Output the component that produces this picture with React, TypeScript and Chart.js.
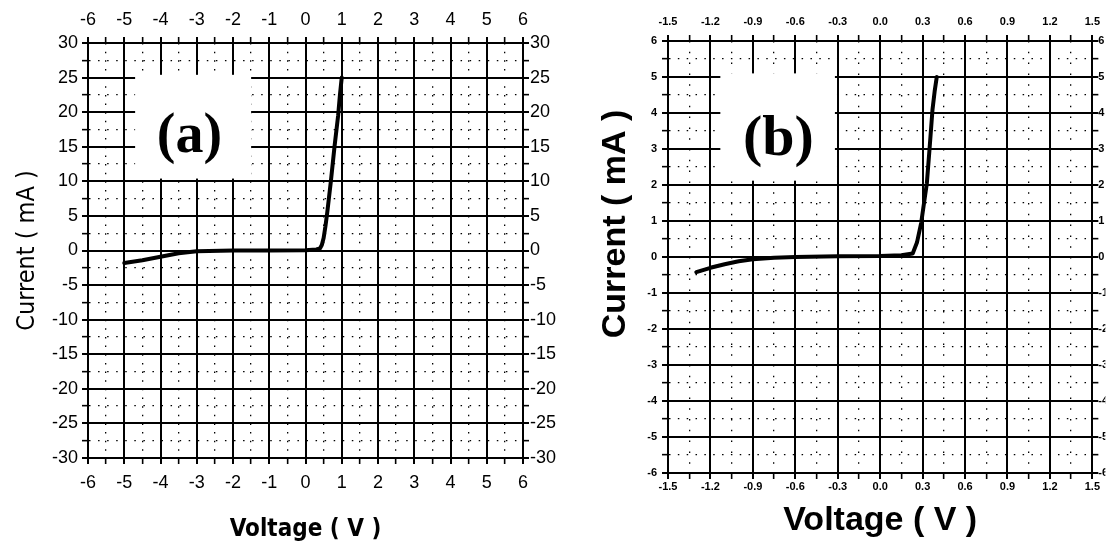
import React, { useEffect, useRef } from 'react';
import { Chart, registerables } from 'chart.js';

Chart.register(...registerables);

// ---------- data: panel (a) ----------
const VOLT_A = [-5, -4.5, -4, -3.5, -3, -2, -1, 0, 0.3, 0.4, 0.45, 0.5, 0.55, 0.6, 0.7, 0.8, 0.9, 0.95, 1.0];
const CURR_A = [-1.8, -1.4, -0.9, -0.4, -0.1, 0, 0, 0.05, 0.15, 0.3, 0.8, 1.8, 3.5, 5.5, 10, 15, 19.5, 22.5, 25];

const X_TICKS_A = [-6, -5, -4, -3, -2, -1, 0, 1, 2, 3, 4, 5, 6];
const X_LABELS_A = ['-6', '-5', '-4', '-3', '-2', '-1', '0', '1', '2', '3', '4', '5', '6'];
const Y_TICKS_A = [-30, -25, -20, -15, -10, -5, 0, 5, 10, 15, 20, 25, 30];
const Y_LABELS_A = ['-30', '-25', '-20', '-15', '-10', '-5', '0', '5', '10', '15', '20', '25', '30'];

// ---------- data: panel (b) ----------
const VOLT_B = [-1.3, -1.2, -1.1, -1.0, -0.9, -0.75, -0.6, -0.3, 0.0, 0.15, 0.23, 0.26, 0.29, 0.31, 0.33, 0.35, 0.37, 0.385, 0.4];
const CURR_B = [-0.42, -0.3, -0.2, -0.12, -0.06, -0.02, 0.0, 0.02, 0.03, 0.05, 0.1, 0.4, 0.95, 1.5, 2.05, 3.05, 4.1, 4.6, 5.0];

const X_TICKS_B = [-1.5, -1.2, -0.9, -0.6, -0.3, 0, 0.3, 0.6, 0.9, 1.2, 1.5];
const X_LABELS_B = ['-1.5', '-1.2', '-0.9', '-0.6', '-0.3', '0.0', '0.3', '0.6', '0.9', '1.2', '1.5'];
const Y_TICKS_B = [-6, -5, -4, -3, -2, -1, 0, 1, 2, 3, 4, 5, 6];
const Y_LABELS_B = ['-6', '-5', '-4', '-3', '-2', '-1', '0', '1', '2', '3', '4', '5', '6'];

// panel tags and the blank areas behind them (data units: xMin, xMax, yMin, yMax)
const TAG_A = '(a)';
const TAG_BOX_A = [-4.7, -1.5, 10.4, 25.4];
const TAG_POS_A = [-3.2, 16.3];
const TAG_B = '(b)';
const TAG_BOX_B = [-1.13, -0.32, 2.12, 5.1];
const TAG_POS_B = [-0.72, 3.25];

const X_TITLE = 'Voltage ( V )';
const Y_TITLE = 'Current ( mA )';
// panel (b)'s y title sits above the centre of its axis in the original
const Y_TITLE_B = '       ' + Y_TITLE;

const SANS = "'Liberation Sans', Arial, sans-serif";
const NARROW = "'Liberation Sans Narrow', 'DejaVu Sans Condensed', 'Liberation Sans', Arial, sans-serif";
const SERIF = "'Liberation Serif', 'DejaVu Serif', serif";

function isMajor(majors: number[], v: number) {
  return majors.some((m) => Math.abs(m - v) < 1e-7);
}

function withMinor(majors: number[]) {
  const out: { value: number }[] = [];
  for (let i = 0; i < majors.length; i++) {
    out.push({ value: majors[i] });
    if (i < majors.length - 1) out.push({ value: (majors[i] + majors[i + 1]) / 2 });
  }
  return out;
}

type AxisSpec = {
  id: 'x' | 'y';
  position: 'top' | 'bottom' | 'left' | 'right';
  majors: number[];
  labels: string[];
  font: any;
  pad: number;
  size: number;
  onArea: boolean;
  title?: any;
};

function makeAxis(s: AxisSpec) {
  const horizontal = s.id === 'x';
  const major = (c: any) => !c.tick || isMajor(s.majors, c.tick.value);
  return {
    type: 'linear',
    axis: s.id,
    position: s.position,
    min: s.majors[0],
    max: s.majors[s.majors.length - 1],
    afterBuildTicks: (scale: any) => {
      scale.ticks = withMinor(s.majors);
    },
    afterFit: (scale: any) => {
      if (horizontal) scale.height = s.size;
      else scale.width = s.size;
    },
    ticks: {
      autoSkip: false,
      maxRotation: 0,
      minRotation: 0,
      color: '#000',
      font: s.font,
      padding: s.pad,
      callback: (v: number) => {
        const i = s.majors.findIndex((m) => Math.abs(m - v) < 1e-7);
        return i >= 0 ? s.labels[i] : '';
      },
    },
    grid: {
      display: true,
      drawOnChartArea: s.onArea,
      drawTicks: true,
      tickLength: 6,
      color: '#000',
      lineWidth: (c: any) => (major(c) ? 2 : 1.3),
      tickColor: '#000',
      tickWidth: (c: any) => (major(c) ? 2 : 1.6),
    },
    border: {
      display: true,
      color: '#000',
      width: 2,
      dash: (c: any) => {
        if (major(c)) return [];
        const area = c.chart && c.chart.chartArea;
        if (!area) return [1.5, 7.5];
        const intervals = (s.majors.length - 1) * 4;
        const len = horizontal ? area.bottom - area.top : area.right - area.left;
        const period = len / intervals;
        return [1.5, period - 1.5];
      },
    },
    title: s.title || { display: false },
  };
}

const tagPlugin = (tag: string, box: number[], pos: number[], font: string) => ({
  id: 'panelTag',
  beforeDatasetsDraw(chart: any) {
    const { ctx, scales } = chart;
    const x = scales.x;
    const y = scales.y;
    const x1 = x.getPixelForValue(box[0]);
    const x2 = x.getPixelForValue(box[1]);
    const y1 = y.getPixelForValue(box[3]);
    const y2 = y.getPixelForValue(box[2]);
    ctx.save();
    ctx.fillStyle = '#fff';
    ctx.fillRect(x1, y1, x2 - x1, y2 - y1);
    ctx.fillStyle = '#000';
    ctx.font = font;
    ctx.textAlign = 'center';
    ctx.textBaseline = 'middle';
    ctx.fillText(tag, x.getPixelForValue(pos[0]), y.getPixelForValue(pos[1]));
    ctx.restore();
  },
});

type PanelProps = {
  volts: number[];
  currents: number[];
  xTicks: number[];
  xLabels: string[];
  yTicks: number[];
  yLabels: string[];
  width: number;
  height: number;
  tickFont: any;
  pads: { top: number; bottom: number; left: number; right: number };
  sizes: { top: number; bottom: number; left: number; right: number };
  xTitle: any;
  yTitle: any;
  tag: string;
  tagBox: number[];
  tagPos: number[];
  tagFont: string;
  lineWidth: number;
};

function Panel(p: PanelProps) {
  const ref = useRef<HTMLCanvasElement | null>(null);
  useEffect(() => {
    if (!ref.current) return;
    const data = p.volts.map((v, i) => ({ x: v, y: p.currents[i] }));
    const chart = new Chart(ref.current, {
      type: 'scatter',
      data: {
        datasets: [
          {
            data,
            showLine: true,
            borderColor: '#000',
            backgroundColor: '#000',
            borderWidth: p.lineWidth,
            pointRadius: 0,
            tension: 0,
            borderCapStyle: 'round',
            borderJoinStyle: 'round',
          } as any,
        ],
      },
      options: {
        responsive: false,
        animation: false,
        devicePixelRatio: 1,
        layout: { padding: 0 },
        plugins: { legend: { display: false }, tooltip: { enabled: false } },
        scales: {
          x: makeAxis({ id: 'x', position: 'bottom', majors: p.xTicks, labels: p.xLabels, font: p.tickFont, pad: p.pads.bottom, size: p.sizes.bottom, onArea: true, title: p.xTitle }),
          x2: makeAxis({ id: 'x', position: 'top', majors: p.xTicks, labels: p.xLabels, font: p.tickFont, pad: p.pads.top, size: p.sizes.top, onArea: false }),
          y: makeAxis({ id: 'y', position: 'left', majors: p.yTicks, labels: p.yLabels, font: p.tickFont, pad: p.pads.left, size: p.sizes.left, onArea: true, title: p.yTitle }),
          y2: makeAxis({ id: 'y', position: 'right', majors: p.yTicks, labels: p.yLabels, font: p.tickFont, pad: p.pads.right, size: p.sizes.right, onArea: false }),
        } as any,
      },
      plugins: [tagPlugin(p.tag, p.tagBox, p.tagPos, p.tagFont)],
    });
    return () => chart.destroy();
  }, []);
  return <canvas ref={ref} width={p.width} height={p.height} style={{ display: 'block', width: p.width, height: p.height }} />;
}

export default function App() {
  return (
    <div style={{ position: 'absolute', left: 0, top: 0, width: 1106, height: 546, background: '#fff', display: 'flex' }}>
      <Panel
        volts={VOLT_A}
        currents={CURR_A}
        xTicks={X_TICKS_A}
        xLabels={X_LABELS_A}
        yTicks={Y_TICKS_A}
        yLabels={Y_LABELS_A}
        width={560}
        height={546}
        tickFont={{ family: SANS, size: 18 }}
        pads={{ top: 6, bottom: 8, left: 4, right: 1 }}
        sizes={{ top: 43, bottom: 88, left: 88, right: 37 }}
        xTitle={{ display: true, text: X_TITLE, color: '#000', font: { family: NARROW, size: 24, weight: 'bold' }, padding: { top: 0, bottom: 2 } }}
        yTitle={{ display: true, text: Y_TITLE, color: '#000', font: { family: NARROW, size: 25 }, padding: { top: 12, bottom: 0 } }}
        tag={TAG_A}
        tagBox={TAG_BOX_A}
        tagPos={TAG_POS_A}
        tagFont={`bold 56px ${SERIF}`}
        lineWidth={4}
      />
      <Panel
        volts={VOLT_B}
        currents={CURR_B}
        xTicks={X_TICKS_B}
        xLabels={X_LABELS_B}
        yTicks={Y_TICKS_B}
        yLabels={Y_LABELS_B}
        width={546}
        height={546}
        tickFont={{ family: SANS, size: 11, weight: 'bold' }}
        pads={{ top: 6, bottom: 1, left: 5, right: 0 }}
        sizes={{ top: 41, bottom: 73, left: 108, right: 13 }}
        xTitle={{ display: true, text: X_TITLE, color: '#000', font: { family: SANS, size: 34, weight: 'bold' }, padding: { top: 0, bottom: 5 } }}
        yTitle={{ display: true, text: Y_TITLE_B, color: '#000', font: { family: SANS, size: 34, weight: 'bold' }, padding: { top: 35, bottom: 0 } }}
        tag={TAG_B}
        tagBox={TAG_BOX_B}
        tagPos={TAG_POS_B}
        tagFont={`bold 58px ${SERIF}`}
        lineWidth={4}
      />
    </div>
  );
}
